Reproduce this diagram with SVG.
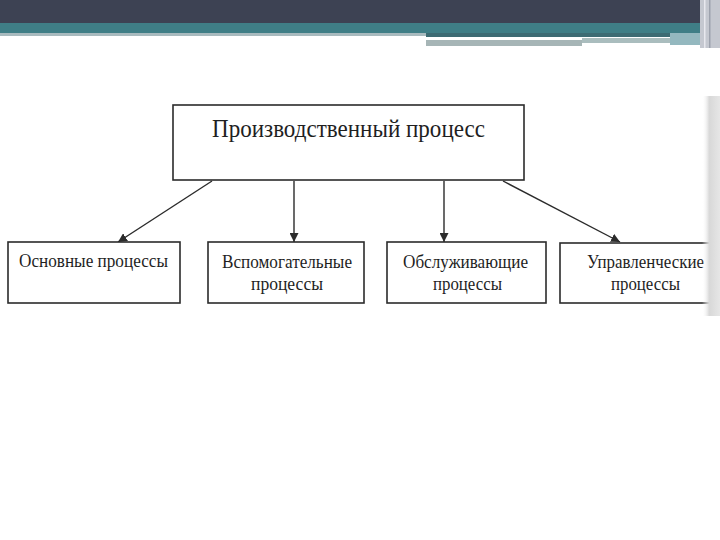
<svg xmlns="http://www.w3.org/2000/svg" width="720" height="540" viewBox="0 0 720 540">
  <style>
    .box { fill: #ffffff; stroke: #2b2b2b; stroke-width: 1.6; }
    .lbl { font-family: "Liberation Serif", "Times New Roman", serif; fill: #1f1f1f; text-anchor: middle; }
    .big { font-size: 25px; }
    .sm { font-size: 19px; }
    .con { stroke: #2b2b2b; stroke-width: 1.4; fill: none; marker-end: url(#ah); }
  </style>
  <defs>
    <marker id="ah" viewBox="0 0 10 10" refX="10" refY="5" markerWidth="9" markerHeight="9" markerUnits="userSpaceOnUse" orient="auto">
      <path d="M0,0 L10,5 L0,10 Z" fill="#2b2b2b"/>
    </marker>
    <linearGradient id="shade" x1="0" y1="0" x2="1" y2="0">
      <stop offset="0" stop-color="#ffffff" stop-opacity="0"/>
      <stop offset="0.4" stop-color="#d8d8d8"/>
      <stop offset="1" stop-color="#e6e6e6"/>
    </linearGradient>
  </defs>
  <rect width="720" height="540" fill="#ffffff"/>

  <g id="header">
    <rect x="0" y="0" width="720" height="23" fill="#3d4253"/>
    <rect x="0" y="23" width="700" height="10" fill="#3f7e86"/>
    <rect x="0" y="33" width="426" height="3" fill="#a8babe"/>
    <rect x="426" y="33" width="244" height="4" fill="#3d6b73"/>
    <rect x="426" y="40" width="156" height="6" fill="#a6b5b6"/>
    <rect x="582" y="38" width="88" height="5" fill="#aabdbe"/>
    <rect x="670" y="33" width="30" height="12" fill="#94b8bf"/>
    <rect x="700" y="0" width="20" height="48" fill="#c5c8d0"/>
    <rect x="704" y="0" width="1.5" height="48" fill="#e8e8ee"/>
    <rect x="709" y="0" width="1.5" height="48" fill="#9da2ad"/>
  </g>

  <g id="connectors">
    <line class="con" x1="212" y1="181" x2="118" y2="242"/>
    <line class="con" x1="294" y1="181" x2="294" y2="242"/>
    <line class="con" x1="444" y1="181" x2="444" y2="242"/>
    <line class="con" x1="503" y1="181" x2="620" y2="242"/>
  </g>

  <g id="node-main">
    <rect class="box" x="173" y="105" width="351" height="75"/>
    <text class="lbl big" x="348.5" y="137" textLength="273" lengthAdjust="spacingAndGlyphs">Производственный процесс</text>
  </g>

  <g id="node-osnovnye">
    <rect class="box" x="8" y="242" width="172" height="61"/>
    <text class="lbl sm" x="93.5" y="267" textLength="149" lengthAdjust="spacingAndGlyphs">Основные процессы</text>
  </g>

  <g id="node-vspomogatelnye">
    <rect class="box" x="208" y="242" width="156" height="61"/>
    <text class="lbl sm" x="287" y="268" textLength="130" lengthAdjust="spacingAndGlyphs">Вспомогательные</text>
    <text class="lbl sm" x="287" y="290" textLength="72" lengthAdjust="spacingAndGlyphs">процессы</text>
  </g>

  <g id="node-obsluzhivayushchie">
    <rect class="box" x="387" y="242" width="159" height="61"/>
    <text class="lbl sm" x="465.5" y="268" textLength="125" lengthAdjust="spacingAndGlyphs">Обслуживающие</text>
    <text class="lbl sm" x="467.5" y="290" textLength="69" lengthAdjust="spacingAndGlyphs">процессы</text>
  </g>

  <g id="node-upravlencheskie">
    <rect class="box" x="560" y="243" width="170" height="60"/>
    <text class="lbl sm" x="645.5" y="268" textLength="117" lengthAdjust="spacingAndGlyphs">Управленческие</text>
    <text class="lbl sm" x="645.5" y="290" textLength="69" lengthAdjust="spacingAndGlyphs">процессы</text>
  </g>

  <rect x="702" y="96" width="18" height="220" fill="url(#shade)"/>
</svg>
